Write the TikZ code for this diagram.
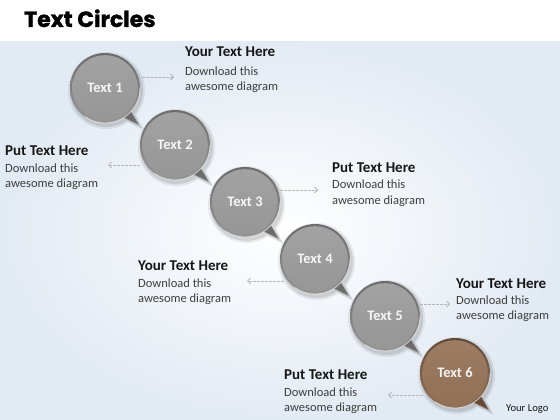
\documentclass[tikz,border=0pt]{standalone}
\usepackage{fontspec}
\setmainfont{Carlito}
\newfontfamily\titlefont[BoldFeatures={FakeBold=1.2}]{Poppins}
\usetikzlibrary{arrows.meta}
\definecolor{bgout}{RGB}{226,234,243}
\definecolor{grayfill}{RGB}{150,150,150}
\definecolor{grayrimd}{RGB}{108,108,108}
\definecolor{grayriml}{RGB}{150,150,150}
\definecolor{grayhi}{RGB}{162,162,162}
\definecolor{brownfill}{RGB}{144,112,86}
\definecolor{brownrimd}{RGB}{100,74,54}
\definecolor{brownriml}{RGB}{146,114,88}
\definecolor{brownhi}{RGB}{156,124,98}
\definecolor{arrowgray}{RGB}{180,182,188}
\definecolor{headc}{RGB}{22,22,22}
\definecolor{bodyc}{RGB}{62,62,62}
\definecolor{lblc}{RGB}{245,245,245}
\begin{document}
\begin{tikzpicture}[x=1pt,y=-1pt,
  conn/.style={draw=arrowgray, dash pattern=on 2.5pt off 1.5pt, line width=0.8pt,
    -{Straight Barb[length=3pt,width=6pt]}},
  hd/.style={anchor=base west, inner sep=0pt, text=headc,
    font=\fontsize{15}{18}\selectfont\bfseries},
  bd/.style={anchor=base west, inner sep=0pt, text=bodyc,
    font=\fontsize{12.5}{15}\selectfont},
  lbl/.style={circle, minimum size=70pt, inner sep=0pt, text=lblc,
    font=\fontsize{14.5}{16}\selectfont\bfseries}]
\useasboundingbox (0,0) rectangle (560,420);
% background
\fill[white] (0,0) rectangle (560,42);
\shade[inner color=white, outer color=bgout] (0,42) rectangle (560,420);
% title
\node[anchor=base west, inner sep=0pt, text=black,
  font=\fontsize{22}{26}\selectfont\titlefont\bfseries] (title) at (24,27) {Text Circles};
% bubbles
\foreach \x/\y/\fc/\rd/\rl/\hc in {105/88/grayfill/grayrimd/grayriml/grayhi,
  175/145/grayfill/grayrimd/grayriml/grayhi,
  245/202/grayfill/grayrimd/grayriml/grayhi, 315/259/grayfill/grayrimd/grayriml/grayhi,
  385/316/grayfill/grayrimd/grayriml/grayhi, 455/373/brownfill/brownrimd/brownriml/brownhi}{
  \begin{scope}[shift={(\x,\y)}]
    \fill[black,opacity=0.07] (1.5,2.5) circle (38.5) (38:37) -- (47.5:57) -- (60:37) -- cycle;
    \fill[black,opacity=0.10] (1.5,2.5) circle (36.5) (38:35) -- (47.5:55) -- (60:35) -- cycle;
    \fill[\rd] (41:33) -- (47.5:50) -- (60:33) -- cycle;
    \fill[\fc!80!white] (50:33) -- (47.5:50) -- (60:33) -- cycle;
    \fill[\rd] (47:33) -- (47.5:49) -- (59:33) -- cycle;
    \shade[top color=\rd, bottom color=\rl] (0,0) circle (35);
    \shade[top color=\hc, bottom color=\fc] (0,0) circle (32.8);
    \draw[white, opacity=0.6, line width=0.8pt] (0:35) arc (0:125:35);
  \end{scope}
}
\node[lbl] (c1) at (105,88) {Text 1};
\node[lbl] (c2) at (175,145) {Text 2};
\node[lbl] (c3) at (245,202) {Text 3};
\node[lbl] (c4) at (315,259) {Text 4};
\node[lbl] (c5) at (385,316) {Text 5};
\node[lbl] (c6) at (455,373) {Text 6};
% text blocks
\node[hd] (h1) at (185,57) {Your Text Here};
\node[bd] (d1) at (185,75.5) {Download this};
\node[bd] (a1) at (185,90.5) {awesome diagram};
\node[hd] (h2) at (5,155) {Put Text Here};
\node[bd] (d2) at (5,172.5) {Download this};
\node[bd] (a2) at (5,187.5) {awesome diagram};
\node[hd] (h3) at (332,172) {Put Text Here};
\node[bd] (d3) at (332,188.5) {Download this};
\node[bd] (a3) at (332,204.5) {awesome diagram};
\node[hd] (h4) at (138,270) {Your Text Here};
\node[bd] (d4) at (138,287.5) {Download this};
\node[bd] (a4) at (138,302.5) {awesome diagram};
\node[hd] (h5) at (456,288) {Your Text Here};
\node[bd] (d5) at (456,304.5) {Download this};
\node[bd] (a5) at (456,319.5) {awesome diagram};
\node[hd] (h6) at (284,379) {Put Text Here};
\node[bd] (d6) at (284,396.5) {Download this};
\node[bd] (a6) at (284,411.5) {awesome diagram};
\node[anchor=base west, inner sep=0pt, text=headc, font=\fontsize{10.6}{12}\selectfont]
  (logo) at (506,411) {Your Logo};
% connectors
\coordinate (e1) at (174,77);
\coordinate (e2) at (108,165);
\coordinate (e3) at (318,190);
\coordinate (e4) at (247,281);
\coordinate (e5) at (450,304);
\coordinate (e6) at (388,395);
\draw[conn] ([xshift=2pt]c1.east |- e1) -- (e1);
\draw[conn] (c2.west |- e2) -- (e2);
\draw[conn] (c3.east |- e3) -- (e3);
\draw[conn] ([xshift=4pt]c4.west |- e4) -- (e4);
\draw[conn] (c5.east |- e5) -- (e5);
\draw[conn] ([xshift=3pt]c6.west |- e6) -- (e6);
\end{tikzpicture}
\end{document}
